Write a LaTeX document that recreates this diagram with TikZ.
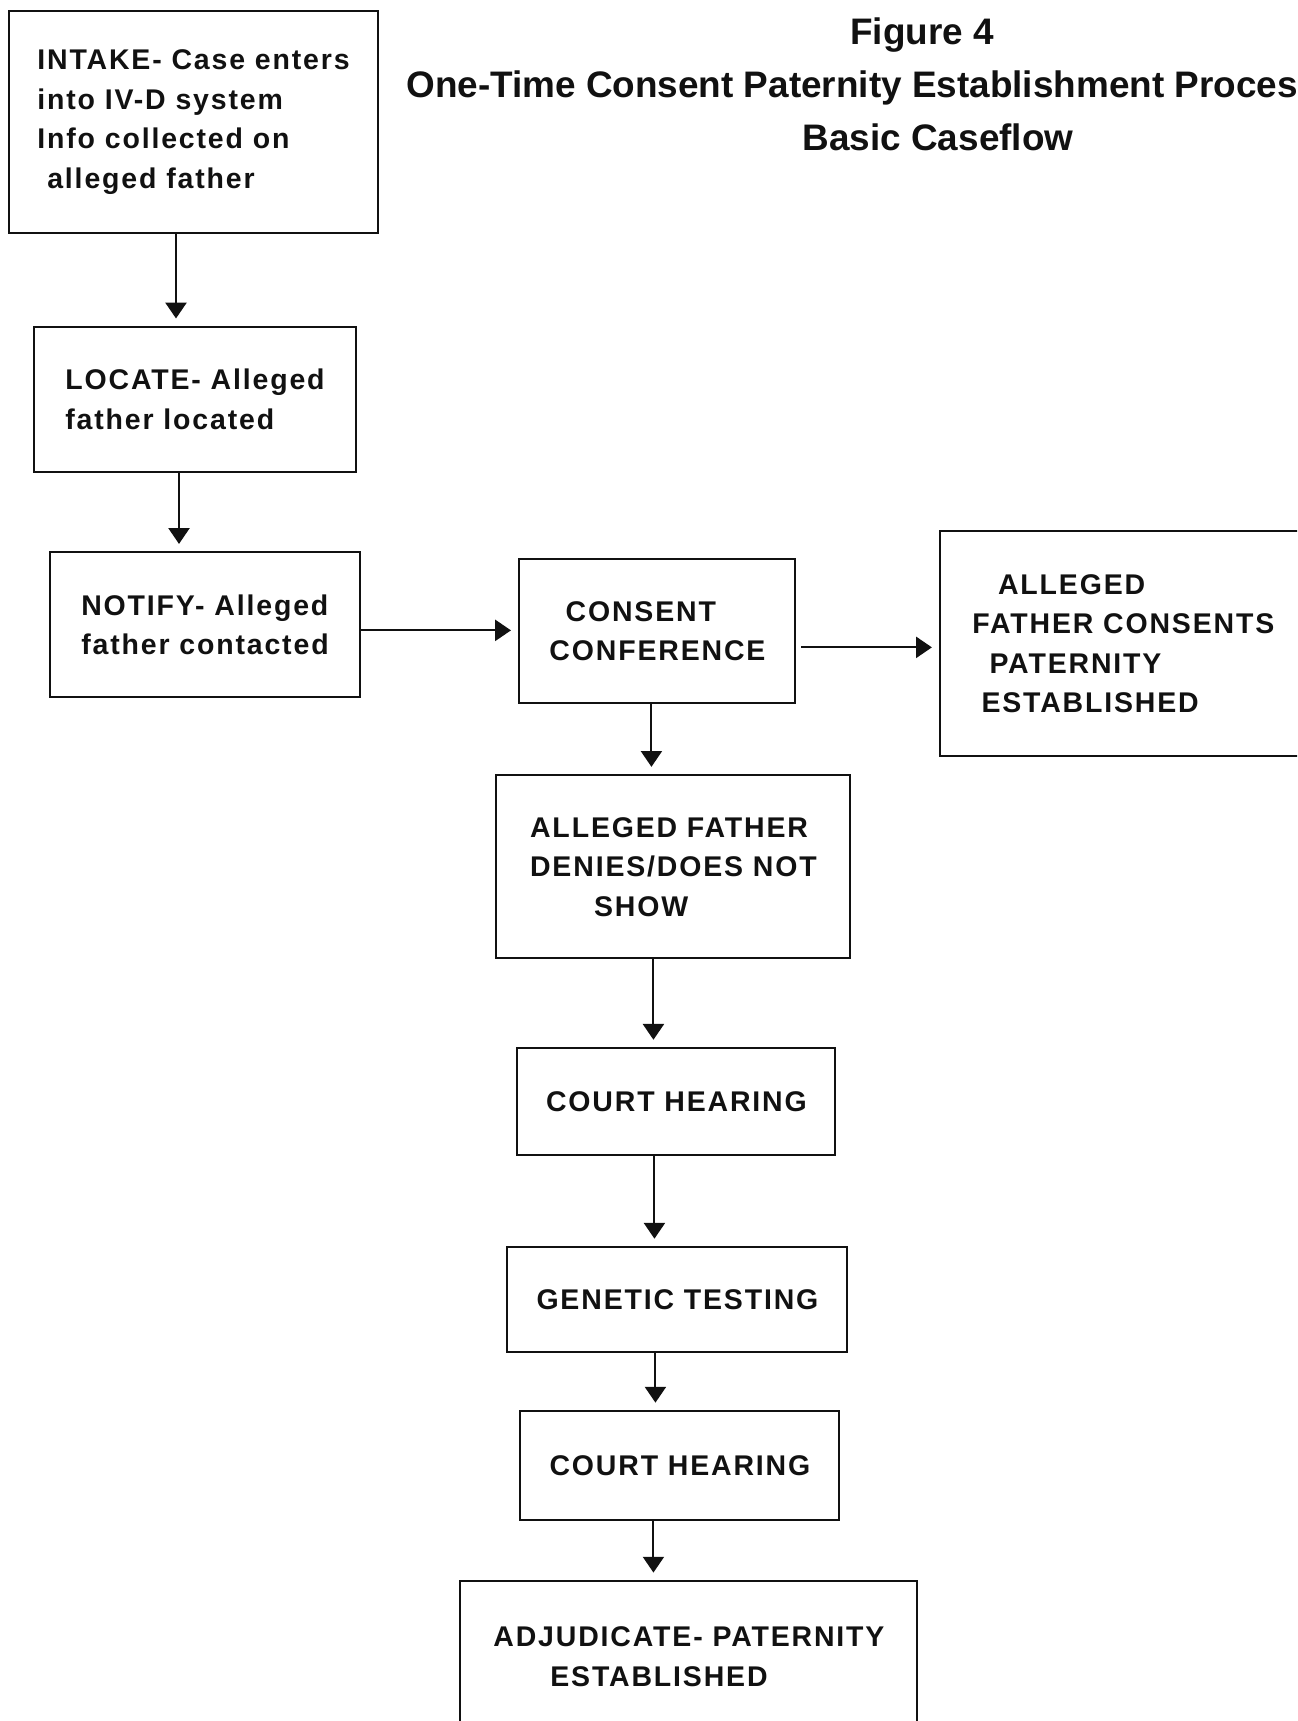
\documentclass[tikz,border=0pt]{standalone}
\usepackage{fontspec}
\setmainfont{Liberation Sans}
\newfontfamily\boxfont[LetterSpace=6.5]{Liberation Sans}
\usepackage{xcolor}
\definecolor{cInk}{HTML}{111111}
\usetikzlibrary{positioning,arrows.meta}
\tikzset{
  node-box/.style={draw=cInk,line width=1.1pt,align=left,inner sep=0pt,text=cInk,
    font=\boxfont\bfseries\fontsize{16.2}{22.5}\selectfont},
  title-text/.style={inner sep=0pt,text=cInk,font=\bfseries\fontsize{21}{25}\selectfont},
  arrow/.style={-{Triangle[length=9pt,width=12pt]},line width=1.1pt,draw=cInk,
    shorten >=0.15cm},
}

\begin{document}
\begin{tikzpicture}[node distance=1.6cm and 3cm]
  \useasboundingbox (0,0) rectangle (25.94,-34.42);
  \clip (0,0) rectangle (25.94,-34.42);

  % title
  \node[title-text,anchor=base] (fig) at (18.44,-0.90) {Figure 4};
  \node[title-text,anchor=base west] (title) at (8.12,-1.96) {One-Time Consent Paternity Establishment Process};
  \node[title-text,anchor=base] (subtitle) at (18.76,-3.02) {Basic Caseflow};

  % left column
  \node[node-box,minimum width=7.38cm,minimum height=4.44cm] (intake) at (3.87,-2.44)
    {INTAKE-\ Case enters\\into IV-D system\\Info collected on\\\hspace*{0.35em}alleged father};
  \node[node-box,minimum width=6.44cm,minimum height=2.9cm,below=1.84cm of intake,xshift=0.03cm] (locate)
    {LOCATE-\ Alleged\\father located};
  \node[node-box,minimum width=6.2cm,minimum height=2.9cm,below=1.57cm of locate,xshift=0.2cm] (notify)
    {NOTIFY-\ Alleged\\father contacted};

  % conference and outcomes
  \node[node-box,minimum width=5.52cm,minimum height=2.88cm,right=3.15cm of notify,yshift=-0.13cm] (consent)
    {\hspace*{0.57em}CONSENT\\CONFERENCE};
  \node[node-box,minimum width=7.32cm,minimum height=4.5cm,right=2.86cm of consent,yshift=-0.25cm] (consents)
    {\hspace*{0.9em}ALLEGED\\FATHER CONSENTS\\\hspace*{0.6em}PATERNITY\\\hspace*{0.32em}ESTABLISHED};
  \node[node-box,minimum width=7.08cm,minimum height=3.66cm,below=1.4cm of consent,xshift=0.32cm] (denies)
    {ALLEGED FATHER\\DENIES/DOES NOT\\\hspace*{2.25em}SHOW};
  \node[node-box,minimum width=6.36cm,minimum height=2.14cm,below=1.76cm of denies,xshift=0.06cm] (court1)
    {COURT HEARING};
  \node[node-box,minimum width=6.8cm,minimum height=2.1cm,below=1.8cm of court1,xshift=0.02cm] (genetic)
    {GENETIC TESTING};
  \node[node-box,minimum width=6.38cm,minimum height=2.18cm,below=1.14cm of genetic,xshift=0.05cm] (court2)
    {COURT HEARING};
  \node[node-box,minimum width=9.14cm,minimum height=3.02cm,below=1.18cm of court2,xshift=0.18cm] (adjudicate)
    {ADJUDICATE-\ PATERNITY\\\hspace*{2em}ESTABLISHED};

  % arrows
  \draw[arrow] ([xshift=-0.35cm]intake.south) -- ([xshift=-0.35cm]intake.south |- locate.north);
  \draw[arrow] ([xshift=-0.32cm]locate.south) -- ([xshift=-0.32cm]locate.south |- notify.north);
  \draw[arrow] ([yshift=-0.11cm]notify.east) -- ([yshift=-0.11cm]notify.east -| consent.west);
  \draw[arrow,shorten <=0.1cm] ([yshift=-0.32cm]consent.east) -- ([yshift=-0.32cm]consent.east -| consents.west);
  \draw[arrow] ([xshift=-0.12cm]consent.south) -- ([xshift=-0.12cm]consent.south |- denies.north);
  \draw[arrow] ([xshift=-0.4cm]denies.south) -- ([xshift=-0.4cm]denies.south |- court1.north);
  \draw[arrow] ([xshift=-0.44cm]court1.south) -- ([xshift=-0.44cm]court1.south |- genetic.north);
  \draw[arrow] ([xshift=-0.44cm]genetic.south) -- ([xshift=-0.44cm]genetic.south |- court2.north);
  \draw[arrow] ([xshift=-0.53cm]court2.south) -- ([xshift=-0.53cm]court2.south |- adjudicate.north);
\end{tikzpicture}
\end{document}
